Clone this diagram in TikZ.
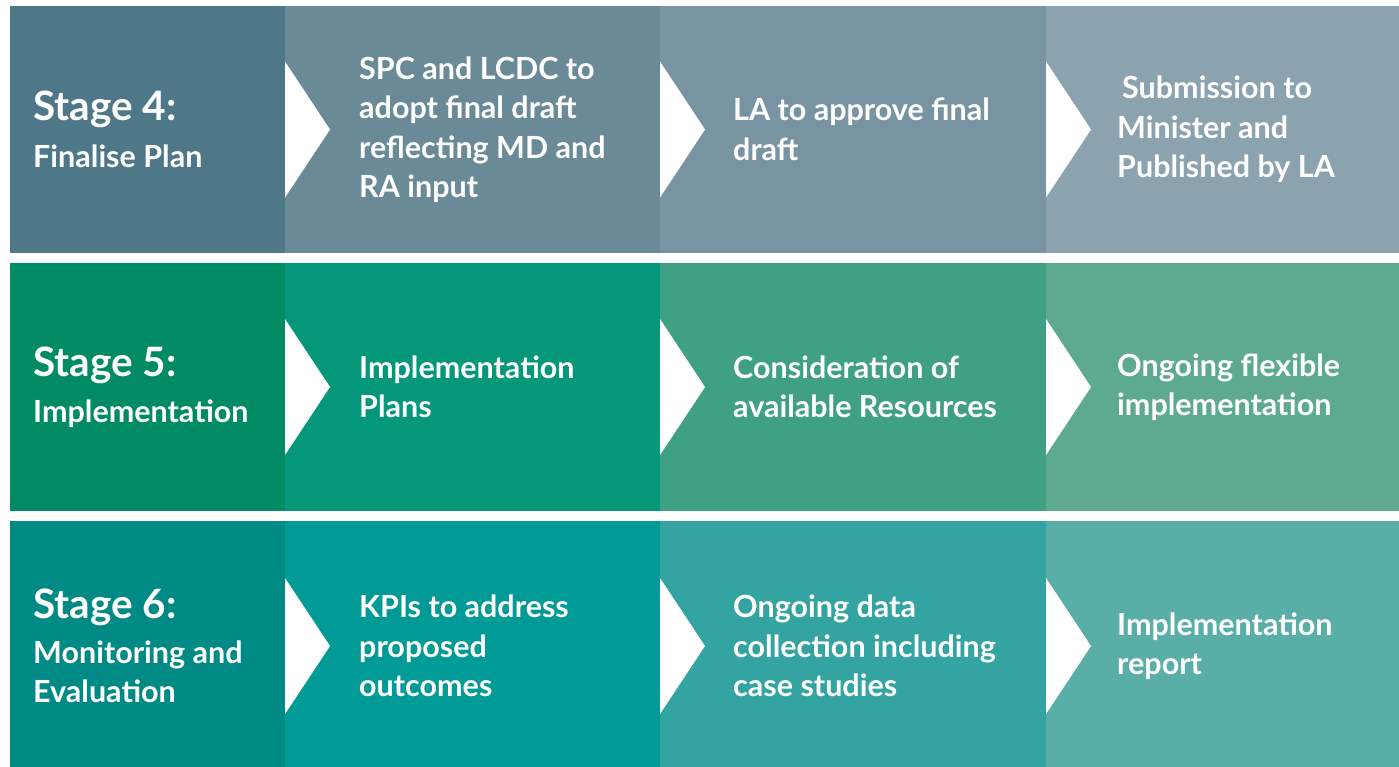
\documentclass[tikz,border=0pt]{standalone}
\usepackage{fontspec}
\setmainfont{Lato}
\usetikzlibrary{positioning}
\definecolor{PlanA}{HTML}{4E7887}
\definecolor{PlanB}{HTML}{6A8A98}
\definecolor{PlanC}{HTML}{7894A2}
\definecolor{PlanD}{HTML}{8BA2AF}
\definecolor{ImplA}{HTML}{008B64}
\definecolor{ImplB}{HTML}{049779}
\definecolor{ImplC}{HTML}{3FA084}
\definecolor{ImplD}{HTML}{5DAA90}
\definecolor{EvalA}{HTML}{008A85}
\definecolor{EvalB}{HTML}{009A97}
\definecolor{EvalC}{HTML}{33A4A1}
\definecolor{EvalD}{HTML}{5AAEA8}

\begin{document}
\begin{tikzpicture}[
			x=1pt, y=-1pt,
			cell/.style={rectangle, inner sep=0pt, outer sep=0pt, anchor=north west},
			txt/.style={text=white, align=left, inner sep=0pt, font=\bfseries\fontsize{30.5}{39.5}\selectfont},
			chev/.style={fill=white}
			]
			\useasboundingbox[fill=white] (0,0) rectangle (1399,766);
			
			% Stage 4 row
			\node (s4) [cell, minimum width=275pt, minimum height=247pt, fill=PlanA] at (10,6) {};
			\node (adopt) [cell, minimum width=375pt, minimum height=247pt, fill=PlanB] at (285,6) {};
			\node (approve) [cell, minimum width=386pt, minimum height=247pt, fill=PlanC] at (660,6) {};
			\node (submit) [cell, minimum width=353pt, minimum height=247pt, fill=PlanD] at (1046,6) {};
			
			% Stage 5 row
			\node (s5) [cell, minimum width=275pt, minimum height=248pt, fill=ImplA] at (10,263) {};
			\node (plans) [cell, minimum width=375pt, minimum height=248pt, fill=ImplB] at (285,263) {};
			\node (resources) [cell, minimum width=386pt, minimum height=248pt, fill=ImplC] at (660,263) {};
			\node (ongoing) [cell, minimum width=353pt, minimum height=248pt, fill=ImplD] at (1046,263) {};
			
			% Stage 6 row
			\node (s6) [cell, minimum width=275pt, minimum height=250pt, fill=EvalA] at (10,521) {};
			\node (kpis) [cell, minimum width=375pt, minimum height=250pt, fill=EvalB] at (285,521) {};
			\node (data) [cell, minimum width=386pt, minimum height=250pt, fill=EvalC] at (660,521) {};
			\node (report) [cell, minimum width=353pt, minimum height=250pt, fill=EvalD] at (1046,521) {};
			
			% Chevrons
			\fill[chev] ([yshift=68pt]adopt.west) -- ([xshift=45pt]adopt.west) -- ([yshift=-68pt]adopt.west) -- cycle;
			\fill[chev] ([yshift=68pt]approve.west) -- ([xshift=45pt]approve.west) -- ([yshift=-68pt]approve.west) -- cycle;
			\fill[chev] ([yshift=68pt]submit.west) -- ([xshift=45pt]submit.west) -- ([yshift=-68pt]submit.west) -- cycle;
			\fill[chev] ([yshift=68pt]plans.west) -- ([xshift=45pt]plans.west) -- ([yshift=-68pt]plans.west) -- cycle;
			\fill[chev] ([yshift=68pt]resources.west) -- ([xshift=45pt]resources.west) -- ([yshift=-68pt]resources.west) -- cycle;
			\fill[chev] ([yshift=68pt]ongoing.west) -- ([xshift=45pt]ongoing.west) -- ([yshift=-68pt]ongoing.west) -- cycle;
			\fill[chev] ([yshift=68pt]kpis.west) -- ([xshift=45pt]kpis.west) -- ([yshift=-68pt]kpis.west) -- cycle;
			\fill[chev] ([yshift=68pt]data.west) -- ([xshift=45pt]data.west) -- ([yshift=-68pt]data.west) -- cycle;
			\fill[chev] ([yshift=68pt]report.west) -- ([xshift=45pt]report.west) -- ([yshift=-68pt]report.west) -- cycle;
			
			% Texts
			\node (s4text) [txt, right=23pt of s4.west] {{\fontsize{40.5}{46}\selectfont Stage 4:}\\[7pt] Finalise Plan};
			\node (adopttext) [txt, right=74pt of adopt.west] {SPC and LCDC to\\ adopt final draft\\ reflecting MD and\\ RA input};
			\node (approvetext) [txt, right=73pt of approve.west] {LA to approve final\\ draft};
			\node (submittext) [txt, right=71pt of submit.west] {\hspace*{5pt}Submission to\\ Minister and\\ Published by LA};
			
			\node (s5text) [txt, right=23pt of s5.west] {{\fontsize{40.5}{46}\selectfont Stage 5:}\\[7pt] Implementation};
			\node (planstext) [txt, right=74pt of plans.west] {Implementation\\ Plans};
			\node (resourcestext) [txt, right=73pt of resources.west] {Consideration of\\ available Resources};
			\node (ongoingtext) [txt, right=71pt of ongoing.west] {Ongoing flexible\\ implementation};
			
			\node (s6text) [txt, right=23pt of s6.west] {{\fontsize{40.5}{46}\selectfont Stage 6:}\\[5pt] Monitoring and\\ Evaluation};
			\node (kpistext) [txt, right=74pt of kpis.west] {KPIs to address\\ proposed\\ outcomes};
			\node (datatext) [txt, right=73pt of data.west] {Ongoing data\\ collection including\\ case studies};
			\node (reporttext) [txt, right=71pt of report.west] {Implementation\\ report};
			
		\end{tikzpicture}
\end{document}
